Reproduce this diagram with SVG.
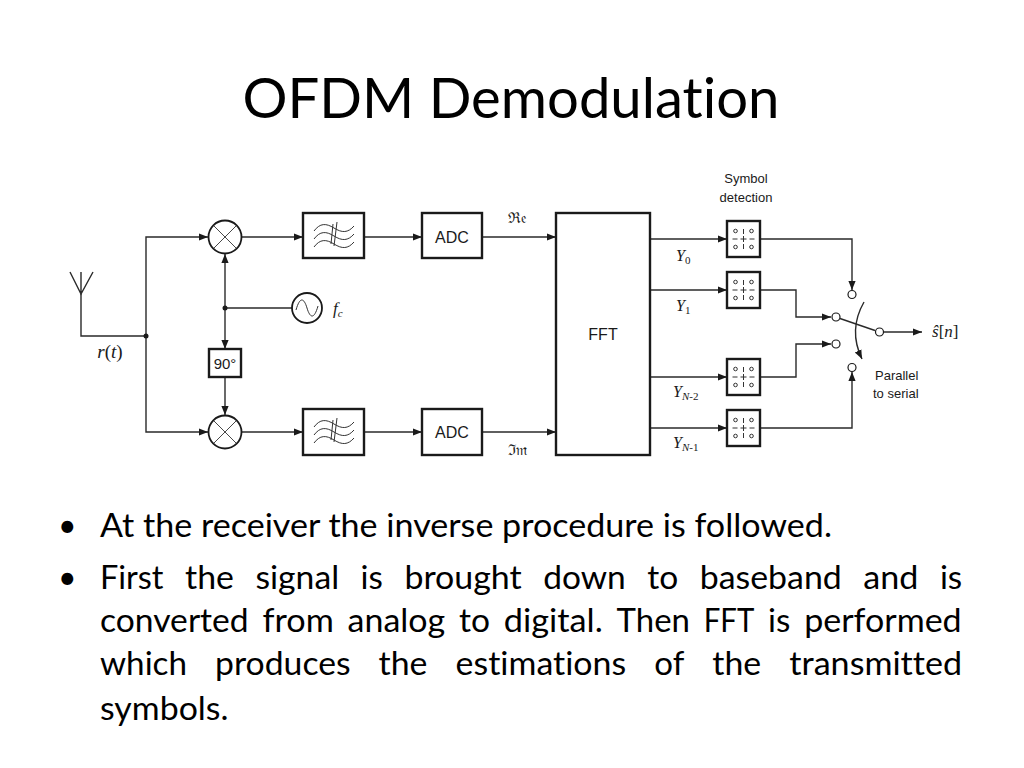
<svg xmlns="http://www.w3.org/2000/svg" width="1024" height="768" viewBox="0 0 1024 768">
<defs>
<marker id="ah" viewBox="0 0 10 10" refX="10" refY="5" markerWidth="9" markerHeight="9" markerUnits="userSpaceOnUse" orient="auto"><path d="M0,1 L10,5 L0,9 z" fill="#1a1a1a"/></marker>
<style>
.ln{fill:none;stroke:#2a2a2a;stroke-width:1.4}
.box{fill:#fff;stroke:#1a1a1a;stroke-width:2.4}
.thin{fill:none;stroke:#333;stroke-width:1}
.blk{fill:#fff;stroke:#1a1a1a;stroke-width:1.8}
.lbl{font-family:"Liberation Sans",Arial,sans-serif;fill:#1a1a1a}
.mth{font-family:"Liberation Serif","Times New Roman",serif;fill:#1a1a1a;font-style:italic}
.body{font-family:Lato,"Liberation Sans",sans-serif;fill:#000;font-size:32px;font-variant-ligatures:none}
.dot{fill:#1a1a1a}
</style>
<g id="sym">
<circle cx="-8" cy="-8" r="1.8" class="thin"/><circle cx="8" cy="-8" r="1.8" class="thin"/>
<circle cx="-8" cy="8" r="1.8" class="thin"/><circle cx="8" cy="8" r="1.8" class="thin"/>
<path class="thin" d="M0,-10 V-5 M0,-3 V3 M0,5 V10 M-11,0 H-6 M-3,0 H3 M6,0 H11"/>
</g>
<g id="wav">
<path class="thin" d="M-20,-5 C-14,-13 -8,-13 0,-8 S14,-3 20,-10"/>
<path class="thin" d="M-20,3 C-14,-5 -8,-5 0,0 S14,5 20,-2"/>
<path class="thin" d="M-20,11 C-14,3 -8,3 0,8 S14,13 20,6"/>
<path class="thin" d="M3,-14 L0,10 M-1,-12 L-3,8"/>
</g>
</defs>
<rect width="1024" height="768" fill="#fff"/>

<text x="511" y="118" text-anchor="middle" font-family="Lato,'Liberation Sans',sans-serif" font-size="57" fill="#000" style="font-variant-ligatures:none" textLength="537" lengthAdjust="spacingAndGlyphs">OFDM Demodulation</text>

<g id="connectors">
<path class="ln" d="M81,294 V336 H146"/>
<path class="ln" d="M146,336 V237 H208" marker-end="url(#ah)"/>
<path class="ln" d="M146,336 V432 H208" marker-end="url(#ah)"/>
<path class="ln" d="M292,308 H225"/>
<path class="ln" d="M225,308 V254" marker-end="url(#ah)"/>
<path class="ln" d="M225,308 V349" marker-end="url(#ah)"/>
<path class="ln" d="M225,377 V415" marker-end="url(#ah)"/>
<path class="ln" d="M242,237 H303" marker-end="url(#ah)"/>
<path class="ln" d="M242,432 H303" marker-end="url(#ah)"/>
<path class="ln" d="M364,237 H422" marker-end="url(#ah)"/>
<path class="ln" d="M364,432 H422" marker-end="url(#ah)"/>
<path class="ln" d="M482,237 H556" marker-end="url(#ah)"/>
<path class="ln" d="M482,432 H556" marker-end="url(#ah)"/>
<path class="ln" d="M650,239 H727" marker-end="url(#ah)"/>
<path class="ln" d="M650,290 H727" marker-end="url(#ah)"/>
<path class="ln" d="M650,377 H727" marker-end="url(#ah)"/>
<path class="ln" d="M650,428 H727" marker-end="url(#ah)"/>
<path class="ln" d="M760,239 H852 V290" marker-end="url(#ah)"/>
<path class="ln" d="M760,290 H796 V317 H831" marker-end="url(#ah)"/>
<path class="ln" d="M760,377 H796 V344 H831" marker-end="url(#ah)"/>
<path class="ln" d="M760,428 H852 V372" marker-end="url(#ah)"/>
<path class="ln" d="M840,318.5 L875,330.5"/>
<path class="ln" d="M884,332 H922" marker-end="url(#ah)"/>
<path class="ln" d="M864,302 Q848,330 862,359" marker-end="url(#ah)"/>
<circle class="dot" cx="146" cy="336" r="2.5"/>
<circle class="dot" cx="225" cy="308" r="2.5"/>
</g>

<g id="antenna">
<path class="ln" d="M70,272 L81,294 L93,272 M81,272 V294"/>
<text class="mth" x="110" y="358" text-anchor="middle" font-size="19">r<tspan font-style="normal">(</tspan>t<tspan font-style="normal">)</tspan></text>
</g>

<g id="mixer-top">
<circle cx="225" cy="237" r="16.5" class="blk"/>
<path class="thin" d="M214,226 L236,248 M236,226 L214,248" style="stroke-width:0.9"/>
</g>
<g id="mixer-bottom">
<circle cx="225" cy="432" r="16.5" class="blk"/>
<path class="thin" d="M214,421 L236,443 M236,421 L214,443" style="stroke-width:0.9"/>
</g>

<g id="oscillator">
<circle cx="307" cy="308" r="15" class="blk"/>
<path class="thin" d="M296,310 C300,296 304,298 307,308 S314,320 318,306"/>
<text class="mth" x="333" y="314" font-size="17">f<tspan font-size="11" dy="3">c</tspan></text>
</g>

<g id="phase90">
<rect x="209" y="349" width="32" height="28" class="box"/>
<text class="lbl" x="225" y="369" text-anchor="middle" font-size="15">90°</text>
</g>

<g id="lpf-top">
<rect x="303" y="213" width="61" height="45" class="box"/>
<use href="#wav" x="334" y="236"/>
</g>
<g id="lpf-bottom">
<rect x="303" y="409" width="61" height="46" class="box"/>
<use href="#wav" x="334" y="432"/>
</g>

<g id="adc-top">
<rect x="422" y="213" width="60" height="45" class="box"/>
<text class="lbl" x="452" y="243" text-anchor="middle" font-size="16">ADC</text>
</g>
<g id="adc-bottom">
<rect x="422" y="409" width="60" height="46" class="box"/>
<text class="lbl" x="452" y="438" text-anchor="middle" font-size="16">ADC</text>
</g>
<text x="517" y="223" text-anchor="middle" font-family="'DejaVu Serif',serif" font-size="15" fill="#1a1a1a">ℜ𝔢</text>
<text x="517" y="455" text-anchor="middle" font-family="'DejaVu Serif',serif" font-size="15" fill="#1a1a1a">ℑ𝔪</text>

<g id="fft">
<rect x="556" y="213" width="94" height="242" class="box"/>
<text class="lbl" x="603" y="340" text-anchor="middle" font-size="16">FFT</text>
</g>

<g id="y-labels">
<text class="mth" x="676" y="261" font-size="16">Y<tspan font-style="normal" font-size="11" dy="3">0</tspan></text>
<text class="mth" x="676" y="311" font-size="16">Y<tspan font-style="normal" font-size="11" dy="3">1</tspan></text>
<text class="mth" x="673" y="397" font-size="16">Y<tspan font-size="11" dy="3">N</tspan><tspan font-style="normal" font-size="11">-2</tspan></text>
<text class="mth" x="673" y="448" font-size="16">Y<tspan font-size="11" dy="3">N</tspan><tspan font-style="normal" font-size="11">-1</tspan></text>
</g>

<g id="symbol-detection">
<text class="lbl" x="746" y="183" text-anchor="middle" font-size="13">Symbol</text>
<text class="lbl" x="746" y="202" text-anchor="middle" font-size="13">detection</text>
<rect x="727" y="221" width="33" height="36" class="box"/><use href="#sym" x="743.5" y="239"/>
<rect x="727" y="272" width="33" height="36" class="box"/><use href="#sym" x="743.5" y="290"/>
<rect x="727" y="359" width="33" height="36" class="box"/><use href="#sym" x="743.5" y="377"/>
<rect x="727" y="410" width="33" height="36" class="box"/><use href="#sym" x="743.5" y="428"/>
</g>

<g id="parallel-to-serial">
<circle cx="852" cy="294.5" r="4" class="blk" style="stroke-width:1.2"/>
<circle cx="836" cy="317" r="4" class="blk" style="stroke-width:1.2"/>
<circle cx="836" cy="344" r="4" class="blk" style="stroke-width:1.2"/>
<circle cx="852" cy="367.5" r="4" class="blk" style="stroke-width:1.2"/>
<circle cx="879.5" cy="332" r="4" class="blk" style="stroke-width:1.2"/>
<text class="lbl" x="875" y="380" font-size="13">Parallel</text>
<text class="lbl" x="873" y="398" font-size="13">to serial</text>
</g>

<g id="output">
<text class="mth" x="932" y="337" font-size="17">ŝ<tspan font-style="normal">[</tspan>n<tspan font-style="normal">]</tspan></text>
</g>

<g id="bullets">
<text class="body" x="58" y="537">•</text>
<text class="body" x="58" y="589">•</text>
<text class="body" x="100" y="537" textLength="732" lengthAdjust="spacingAndGlyphs">At the receiver the inverse procedure is followed.</text>
<g id="line2">
<text class="body" y="589" x="100" textLength="63.5" lengthAdjust="spacingAndGlyphs">First</text>
<text class="body" y="589" x="185" textLength="48.9" lengthAdjust="spacingAndGlyphs">the</text>
<text class="body" y="589" x="255.4" textLength="83.7" lengthAdjust="spacingAndGlyphs">signal</text>
<text class="body" y="589" x="360.6" textLength="22.3" lengthAdjust="spacingAndGlyphs">is</text>
<text class="body" y="589" x="404.4" textLength="117.3" lengthAdjust="spacingAndGlyphs">brought</text>
<text class="body" y="589" x="543.2" textLength="82.5" lengthAdjust="spacingAndGlyphs">down</text>
<text class="body" y="589" x="647.2" textLength="31" lengthAdjust="spacingAndGlyphs">to</text>
<text class="body" y="589" x="699.7" textLength="142.1" lengthAdjust="spacingAndGlyphs">baseband</text>
<text class="body" y="589" x="863.3" textLength="55.1" lengthAdjust="spacingAndGlyphs">and</text>
<text class="body" y="589" x="939.9" textLength="22.3" lengthAdjust="spacingAndGlyphs">is</text>
</g>
<g id="line3">
<text class="body" y="632" x="100" textLength="148.7" lengthAdjust="spacingAndGlyphs">converted</text>
<text class="body" y="632" x="262.5" textLength="71.3" lengthAdjust="spacingAndGlyphs">from</text>
<text class="body" y="632" x="347.6" textLength="97.6" lengthAdjust="spacingAndGlyphs">analog</text>
<text class="body" y="632" x="459" textLength="31" lengthAdjust="spacingAndGlyphs">to</text>
<text class="body" y="632" x="503.8" textLength="99" lengthAdjust="spacingAndGlyphs">digital.</text>
<text class="body" y="632" x="616.6" textLength="73.3" lengthAdjust="spacingAndGlyphs">Then</text>
<text class="body" y="632" x="703.7" textLength="50.6" lengthAdjust="spacingAndGlyphs">FFT</text>
<text class="body" y="632" x="768.1" textLength="22.3" lengthAdjust="spacingAndGlyphs">is</text>
<text class="body" y="632" x="804.2" textLength="157.5" lengthAdjust="spacingAndGlyphs">performed</text>
</g>
<g id="line4">
<text class="body" y="675" x="100" textLength="87" lengthAdjust="spacingAndGlyphs">which</text>
<text class="body" y="675" x="215.1" textLength="135.5" lengthAdjust="spacingAndGlyphs">produces</text>
<text class="body" y="675" x="378.6" textLength="48.9" lengthAdjust="spacingAndGlyphs">the</text>
<text class="body" y="675" x="455.6" textLength="170.6" lengthAdjust="spacingAndGlyphs">estimations</text>
<text class="body" y="675" x="654.3" textLength="30" lengthAdjust="spacingAndGlyphs">of</text>
<text class="body" y="675" x="712.3" textLength="48.9" lengthAdjust="spacingAndGlyphs">the</text>
<text class="body" y="675" x="789.3" textLength="172.8" lengthAdjust="spacingAndGlyphs">transmitted</text>
</g>
<text class="body" x="100" y="720" textLength="128.5" lengthAdjust="spacingAndGlyphs">symbols.</text>
</g>
</svg>
